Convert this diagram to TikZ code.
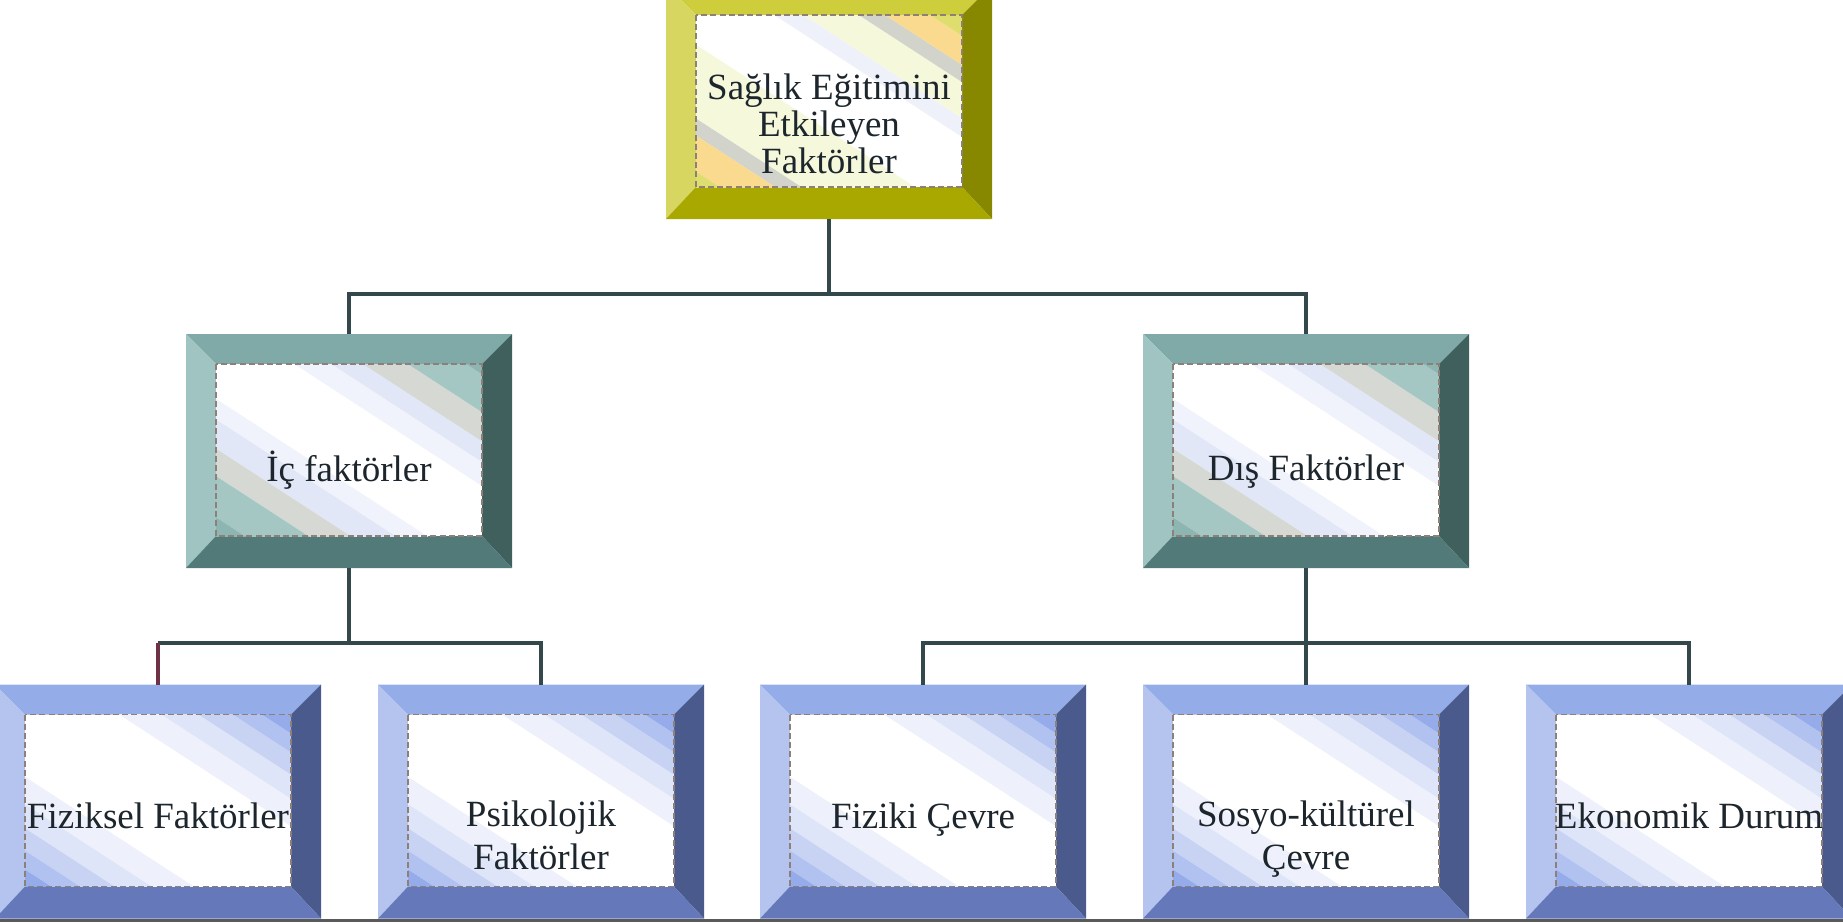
\documentclass[tikz,border=0pt]{standalone}
\usepackage{fontspec}
\setmainfont{Liberation Serif}

\definecolor{labelink}{RGB}{28,38,44}
\definecolor{dashgray}{RGB}{140,128,120}
\definecolor{linkslate}{RGB}{50,72,74}
\definecolor{linkmaroon}{RGB}{110,50,70}
\definecolor{rulegray}{RGB}{90,90,90}

\definecolor{yeltop}{RGB}{206,206,60}
\definecolor{yelleft}{RGB}{214,214,96}
\definecolor{yelright}{RGB}{136,136,0}
\definecolor{yelbottom}{RGB}{168,168,0}
\definecolor{yelA}{RGB}{222,222,110}
\definecolor{yelB}{RGB}{250,218,142}
\definecolor{yelC}{RGB}{210,212,204}
\definecolor{yelD}{RGB}{246,248,220}
\definecolor{yelE}{RGB}{238,241,250}

\definecolor{tealtop}{RGB}{128,170,168}
\definecolor{tealleft}{RGB}{160,196,193}
\definecolor{tealright}{RGB}{64,96,94}
\definecolor{tealbottom}{RGB}{82,122,120}
\definecolor{tealA}{RGB}{141,182,178}
\definecolor{tealB}{RGB}{165,199,195}
\definecolor{tealC}{RGB}{214,216,212}
\definecolor{tealD}{RGB}{225,231,246}
\definecolor{tealE}{RGB}{240,243,251}

\definecolor{blutop}{RGB}{148,172,232}
\definecolor{bluleft}{RGB}{180,196,238}
\definecolor{bluright}{RGB}{74,90,140}
\definecolor{blubottom}{RGB}{100,120,186}
\definecolor{bluA}{RGB}{150,172,234}
\definecolor{bluB}{RGB}{178,194,240}
\definecolor{bluC}{RGB}{200,211,244}
\definecolor{bluD}{RGB}{222,229,248}
\definecolor{bluE}{RGB}{238,241,251}

% stripes of each face: from/to (share of the half diagonal) / tint
\def\yelbandlist{0.3/0.41/E, 0.41/0.62/D, 0.62/0.72/C, 0.72/0.89/B, 0.89/1.5/A,
  -0.6/-0.17/D, -0.7/-0.6/C, -0.91/-0.7/B, -1.5/-0.91/A}
\def\tealbandlist{0.3/0.44/E, 0.44/0.56/D, 0.56/0.73/C, 0.73/0.95/B, 0.95/1.5/A,
  -0.32/-0.2/E, -0.49/-0.32/D, -0.65/-0.49/C, -0.89/-0.65/B, -1.5/-0.89/A}
\def\blubandlist{0.36/0.52/E, 0.52/0.66/D, 0.66/0.79/C, 0.79/0.9/B, 0.9/1.5/A,
  -0.52/-0.36/E, -0.66/-0.52/D, -0.79/-0.66/C, -0.9/-0.79/B, -1.5/-0.9/A}

% point on a stripe edge: #1 = share, #2 = +1 or -1 (end of the edge)
\newcommand{\stripept}[2]{([shift={({(#1*39.19+#2*134.2)*1pt},{(#1*60.32-#2*87.2)*1pt})}]\pb.center)}

\newcommand{\bevelpaint}[1]{%
  \def\pb{path picture bounding box}%
  \fill[#1top] (\pb.north west) -- (\pb.north east) -- ([shift={(-15pt,-15pt)}]\pb.north east) -- ([shift={(15pt,-15pt)}]\pb.north west) -- cycle;
  \fill[#1left] (\pb.north west) -- ([shift={(15pt,-15pt)}]\pb.north west) -- ([shift={(15pt,16pt)}]\pb.south west) -- (\pb.south west) -- cycle;
  \fill[#1right] (\pb.north east) -- (\pb.south east) -- ([shift={(-15pt,16pt)}]\pb.south east) -- ([shift={(-15pt,-15pt)}]\pb.north east) -- cycle;
  \fill[#1bottom] (\pb.south west) -- ([shift={(15pt,16pt)}]\pb.south west) -- ([shift={(-15pt,16pt)}]\pb.south east) -- (\pb.south east) -- cycle;
  \begin{scope}
    \clip ([shift={(15pt,-15pt)}]\pb.north west) rectangle ([shift={(-15pt,16pt)}]\pb.south east);
    \fill[white] ([shift={(15pt,-15pt)}]\pb.north west) rectangle ([shift={(-15pt,16pt)}]\pb.south east);
    \expandafter\let\expandafter\bandlist\csname #1bandlist\endcsname
    \foreach \lo/\hi/\tint in \bandlist {
      \fill[fill=#1\tint] \stripept{\lo}{-1} -- \stripept{\lo}{1} -- \stripept{\hi}{1} -- \stripept{\hi}{-1} -- cycle;
    }
  \end{scope}
  \draw[facedash] ([shift={(15pt,-15pt)}]\pb.north west) rectangle ([shift={(-15pt,16pt)}]\pb.south east);
}

\newcommand{\boxlabel}[2]{\smash{\raisebox{-#1}{\begin{tabular}{@{}c@{}}#2\end{tabular}}}}

\tikzset{
  framebox/.style={rectangle, minimum width=163pt, minimum height=117pt, inner sep=0pt, outer sep=0pt,
    text=labelink, font=\fontsize{18.5}{21}\selectfont, path picture={\bevelpaint{#1}}},
  facedash/.style={draw=dashgray, line width=0.8pt, dash pattern=on 3pt off 1.6pt},
  link/.style={draw=linkslate, line width=2pt},
  droplink/.style={draw=linkmaroon, line width=2pt}
}

\begin{document}
\begin{tikzpicture}[x=0.5pt, y=-0.5pt]
    \useasboundingbox (0,0) rectangle (1843,922);
    \clip (0,0) rectangle (1843,922);

    \node[framebox=yel] (root) at (829,102) {\boxlabel{17.5pt}{Sağlık Eğitimini\\[-2.5pt]Etkileyen\\[-2.5pt]Faktörler}};

    \begin{scope}[every node/.style={framebox=teal}]
        \node (ic) at (349,451) {\boxlabel{15pt}{İç faktörler}};
        \node (dis) at (1306,451) {\boxlabel{15pt}{Dış Faktörler}};
    \end{scope}

    \begin{scope}[every node/.style={framebox=blu}]
        \node (fiz) at (158,801.5) {\boxlabel{13.5pt}{Fiziksel Faktörler}};
        \node (psi) at (541,801.5) {\boxlabel{23.5pt}{Psikolojik\\[0.5pt]Faktörler}};
        \node (cevre) at (923,801.5) {\boxlabel{13.5pt}{Fiziki Çevre}};
        \node (sosyo) at (1306,801.5) {\boxlabel{23.5pt}{Sosyo-kültürel\\[0.5pt]Çevre}};
        \node (eko) at (1689,801.5) {\boxlabel{13.5pt}{Ekonomik Durum}};
    \end{scope}

    \draw[link] (root.south) -- ++(0,75) -| (ic.north);
    \draw[link] (root.south) -- ++(0,75) -| (dis.north);

    \path (ic.south) ++(0,75) coordinate (icbus);
    \draw[link] (ic.south) -- (icbus) -| (psi.north);
    \draw[link] (icbus) -- (icbus -| fiz.north);
    \draw[droplink] (icbus -| fiz.north) -- (fiz.north);

    \draw[link] (dis.south) -- ++(0,75) -| (cevre.north);
    \draw[link] (dis.south) -- ++(0,75) -| (eko.north);
    \draw[link] (dis.south) -- (sosyo.north);

    % rule under the bottom row
    \draw[draw=rulegray, line width=1.5pt] (0,920.5) -- (1843,920.5);
\end{tikzpicture}
\end{document}
